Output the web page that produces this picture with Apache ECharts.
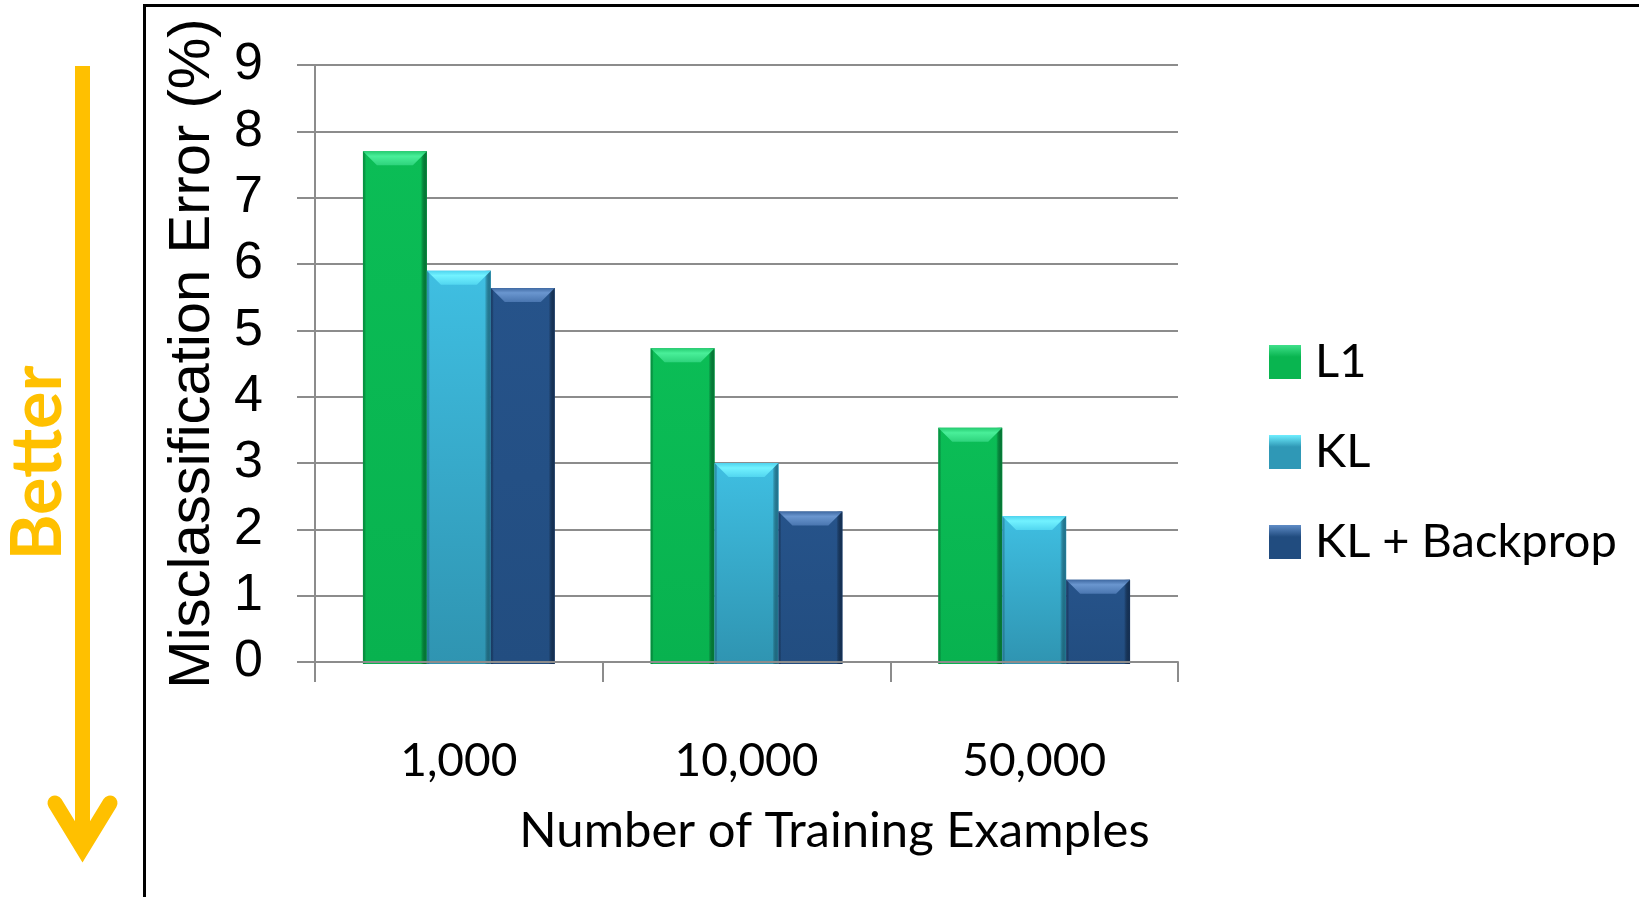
<!DOCTYPE html>
<html>
<head>
<meta charset="utf-8">
<script src="https://cdn.jsdelivr.net/npm/echarts@6/dist/echarts.min.js"></script>
<style>
  html, body { margin: 0; padding: 0; background: #ffffff; }
  #chart { width: 1639px; height: 897px; }
</style>
</head>
<body>
<div id="chart"></div>
<script>
// Training-set sizes on the x axis
const categories = ['1,000', '10,000', '50,000'];
// Misclassification error (%) per method
const l1 = [7.7, 4.73, 3.53];
const kl = [5.9, 3.0, 2.2];
const klBackprop = [5.64, 2.27, 1.24];
const seriesNames = ['L1', 'KL', 'KL + Backprop'];

// Bevelled bar palettes, one per method
const palettes = [
  { top: '#0bbd56', bottom: '#08b24f', edge: '#05823a', bevel: ['#25cc71', '#49ef99', '#2ed37c'], legend: ['#3fe08a', '#09b550'] },
  { top: '#3fbfe2', bottom: '#2f94b1', edge: '#237e9c', bevel: ['#4fd3ee', '#72f2ff', '#52d6f0'], legend: ['#6eeeff', '#2f98b6'] },
  { top: '#26538a', bottom: '#224d80', edge: '#16335a', bevel: ['#3f69a2', '#6a96cf', '#4a76b0'], legend: ['#5f8cc6', '#214c7f'] }
];

const LG = echarts.graphic.LinearGradient;

function barRenderer(idx) {
  const p = palettes[idx];
  return function (params, api) {
    const c = api.value(0);
    const v = api.value(1);
    const top = api.coord([c, v]);
    const base = api.coord([c, 0]);
    const band = api.size([1, 0])[0];
    const w = band * 2 / 9;
    const x = top[0] - 1.5 * w + idx * w;
    const y = top[1];
    const h = base[1] - top[1] + 2;
    const b = Math.min(14, h / 2);
    return {
      type: 'group',
      children: [
        { type: 'rect', shape: { x: x, y: y, width: w, height: h },
          style: { fill: new LG(0, 0, 0, 1, [{ offset: 0, color: p.top }, { offset: 1, color: p.bottom }]) } },
        { type: 'rect', shape: { x: x + w - 6, y: y, width: 6, height: h },
          style: { fill: new LG(0, 0, 1, 0, [{ offset: 0, color: 'rgba(0,0,0,0)' }, { offset: 1, color: p.edge }]) } },
        { type: 'rect', shape: { x: x, y: y, width: 3, height: h },
          style: { fill: new LG(0, 0, 1, 0, [{ offset: 0, color: p.edge }, { offset: 1, color: 'rgba(0,0,0,0)' }]), opacity: 0.6 } },
        { type: 'polygon', shape: { points: [[x, y], [x + w, y], [x + w - b, y + b], [x + b, y + b]] },
          style: { fill: new LG(0, 0, 0, 1, [
            { offset: 0, color: p.bevel[0] }, { offset: 0.35, color: p.bevel[1] }, { offset: 1, color: p.bevel[2] }]) } }
      ]
    };
  };
}

const values = [l1, kl, klBackprop];
const series = values.map(function (arr, i) {
  return {
    name: seriesNames[i],
    type: 'custom',
    renderItem: barRenderer(i),
    itemStyle: { color: new LG(0, 0, 0, 1, [{ offset: 0, color: palettes[i].legend[0] }, { offset: 0.35, color: palettes[i].legend[1] }, { offset: 1, color: palettes[i].legend[1] }]) },
    encode: { x: 0, y: 1 },
    data: arr.map(function (v, k) { return [k, v]; }),
    z: 2
  };
});

const chart = echarts.init(document.getElementById('chart'), null, { renderer: 'canvas' });
chart.setOption({
  backgroundColor: '#ffffff',
  animation: false,
  grid: { left: 315, top: 65, width: 863, height: 597 },
  xAxis: {
    type: 'category',
    data: categories,
    z: 5,
    boundaryGap: true,
    axisLine: { show: true, lineStyle: { color: '#8c8c8c', width: 2 } },
    axisTick: { show: true, length: 20, lineStyle: { color: '#8c8c8c', width: 2 } },
    axisLabel: { margin: 76, color: '#000000', fontFamily: 'Lato', fontSize: 46 },
    splitLine: { show: false },
    name: 'Number of Training Examples',
    nameLocation: 'middle',
    nameGap: 145,
    nameTextStyle: { color: '#000000', fontFamily: 'Lato', fontSize: 49, padding: [0, 0, 0, 176] }
  },
  yAxis: {
    type: 'value',
    min: 0,
    max: 9,
    interval: 1,
    axisLine: { show: true, lineStyle: { color: '#8c8c8c', width: 2 } },
    axisTick: { show: true, length: 18, lineStyle: { color: '#8c8c8c', width: 2 } },
    axisLabel: { margin: 52, color: '#000000', fontFamily: 'Liberation Sans', fontSize: 52 },
    splitLine: { show: true, lineStyle: { color: '#8c8c8c', width: 2 } },
    name: 'Misclassification Error (%)',
    nameLocation: 'middle',
    nameRotate: 90,
    nameGap: 93,
    nameTextStyle: { color: '#000000', fontFamily: 'Liberation Sans', fontSize: 58, padding: [0, 0, 0, 20] }
  },
  legend: {
    orient: 'vertical',
    left: 1269,
    top: 334,
    padding: 0,
    itemWidth: 32,
    itemHeight: 34,
    itemGap: 34,
    icon: 'rect',
    data: seriesNames,
    textStyle: { color: '#000000', fontFamily: 'Lato', fontSize: 47, lineHeight: 56, padding: [0, 0, 0, 9] }
  },
  series: series,
  graphic: [
    // frame around the plot area (left and top edges)
    { type: 'polyline', shape: { points: [[144.5, 897], [144.5, 5.5], [1639, 5.5]] },
      style: { stroke: '#000000', lineWidth: 3, fill: null }, z: 10 },
    // "better" arrow pointing down
    { type: 'line', shape: { x1: 82.5, y1: 66, x2: 82.5, y2: 848 },
      style: { stroke: '#ffc000', lineWidth: 15, lineCap: 'butt' }, z: 10 },
    { type: 'polyline', shape: { points: [[55, 803], [82.5, 848], [110, 803]] },
      style: { stroke: '#ffc000', lineWidth: 15, lineCap: 'round', lineJoin: 'miter', fill: null }, z: 10 },
    { type: 'text', x: 38, y: 463, rotation: Math.PI / 2,
      style: { text: 'Better', fill: '#ffc000', font: 'bold 70px Lato', align: 'center', verticalAlign: 'middle' }, z: 10 }
  ]
});
</script>
</body>
</html>
